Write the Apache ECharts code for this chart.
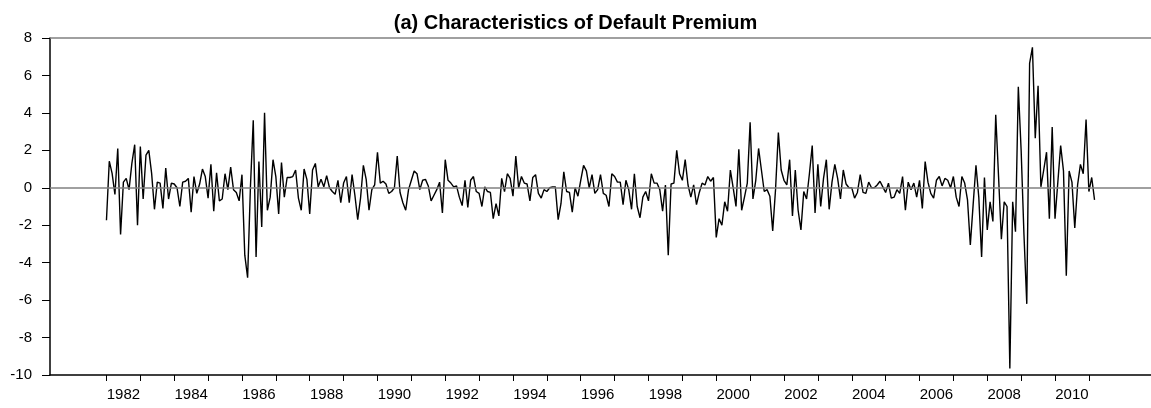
<!DOCTYPE html>
<html>
<head>
<meta charset="utf-8">
<title>Default Premium</title>
<script src="https://cdn.jsdelivr.net/npm/echarts@6/dist/echarts.min.js"></script>
<style>
	html, body { margin: 0; padding: 0; background: #fff; }
	#chart { width: 1151px; height: 408px; }
</style>
</head>
<body>
<div id="chart"></div>
<script>
// monthly default premium, first value = Jan 1982
var startYear = 1982;
var premium = [
	-1.73, 1.42, 0.77, -0.36, 2.1, -2.5, 0.3, 0.5, -0.1, 1.3, 2.3, -2.0,      // 1982
	2.2, -0.6, 1.75, 2.0, 0.77, -1.15, 0.3, 0.25, -1.1, 1.05, -0.6, 0.25,    // 1983
	0.2, 0.0, -1.0, 0.3, 0.35, 0.5, -1.3, 0.6, -0.3, 0.2, 1.0, 0.6,          // 1984
	-0.55, 1.25, -1.25, 0.8, -0.7, -0.6, 0.75, -0.1, 1.1, -0.1, -0.25, -0.7, // 1985
	0.7, -3.6, -4.8, 0.05, 3.6, -3.7, 1.4, -2.1, 4.0, -1.2, -0.5, 1.5,       // 1986
	0.6, -1.4, 1.35, -0.5, 0.55, 0.55, 0.6, 0.95, -0.55, -1.2, 1.0, 0.45,    // 1987
	-1.4, 0.95, 1.3, 0.05, 0.45, 0.05, 0.65, 0.0, -0.2, -0.35, 0.4, -0.8,    // 1988
	0.25, 0.6, -0.8, 0.7, -0.4, -1.7, -0.55, 1.2, 0.45, -1.2, -0.1, 0.15,    // 1989
	1.9, 0.25, 0.35, 0.2, -0.3, -0.2, 0.0, 1.7, -0.25, -0.8, -1.2, -0.1,     // 1990
	0.4, 0.9, 0.75, -0.1, 0.4, 0.45, 0.1, -0.7, -0.4, -0.1, 0.3, -1.35,      // 1991
	1.5, 0.4, 0.25, 0.05, 0.1, -0.5, -0.95, 0.4, -1.05, 0.4, 0.6, -0.2,      // 1992
	-0.3, -1.0, 0.05, -0.2, -0.25, -1.65, -0.85, -1.5, 0.5, -0.2, 0.75, 0.5, // 1993
	-0.45, 1.7, 0.0, 0.6, 0.25, 0.2, -0.7, 0.55, 0.7, -0.3, -0.55, -0.1,     // 1994
	-0.2, 0.0, 0.05, 0.05, -1.7, -0.85, 0.85, -0.2, -0.25, -1.3, 0.0, -0.45, // 1995
	0.4, 1.2, 0.9, 0.0, 0.7, -0.3, -0.1, 0.7, -0.3, -0.4, -1.0, 0.75,        // 1996
	0.6, 0.3, 0.3, -0.9, 0.4, -0.1, -1.15, 0.75, -1.0, -1.6, -0.5, -0.2,     // 1997
	-0.7, 0.75, 0.25, 0.25, -0.1, -1.25, 0.15, -3.6, 0.2, 0.25, 2.0, 0.75,   // 1998
	0.4, 1.5, 0.15, -0.5, 0.15, -0.9, -0.25, 0.25, 0.15, 0.6, 0.35, 0.55,    // 1999
	-2.65, -1.65, -2.0, -0.75, -1.25, 0.95, 0.0, -1.0, 2.05, -1.2, -0.5, 0.25, // 2000
	3.5, -0.6, 0.4, 2.1, 0.95, -0.2, -0.1, -0.45, -2.3, -0.1, 2.95, 0.95,    // 2001
	0.4, 0.15, 1.5, -1.5, 0.95, -1.2, -2.25, -0.2, -0.6, 0.75, 2.25, -1.35,  // 2002
	1.25, -1.0, 0.5, 1.5, -1.15, 0.3, 1.25, 0.5, -0.6, 0.95, 0.2, 0.0,       // 2003
	0.0, -0.55, -0.25, 0.7, -0.25, -0.3, 0.3, 0.0, 0.0, 0.15, 0.35, 0.05,    // 2004
	-0.25, 0.25, -0.55, -0.5, -0.1, -0.3, 0.6, -1.2, 0.3, -0.1, 0.25, -0.5,  // 2005
	0.4, -1.1, 1.4, 0.3, -0.3, -0.55, 0.4, 0.6, 0.1, 0.5, 0.4, 0.0,          // 2006
	0.6, -0.5, -1.0, 0.6, 0.25, -0.65, -3.05, -0.9, 1.2, -0.5, -3.7, 0.55,   // 2007
	-2.25, -0.75, -1.8, 3.9, 0.6, -2.75, -0.75, -1.0, -9.65, -0.75, -2.35, 5.4, // 2008
	2.0, -2.5, -6.2, 6.65, 7.5, 2.65, 5.45, 0.05, 0.95, 1.9, -1.65, 3.25,    // 2009
	-1.65, 0.3, 2.25, 0.9, -4.7, 0.9, 0.3, -2.15, 0.15, 1.25, 0.75, 3.65,    // 2010
	-0.2, 0.55, -0.65                                                        // 2011
];
var tickYears = [1982, 1983, 1984, 1985, 1986, 1987, 1988, 1989, 1990, 1991, 1992, 1993, 1994, 1995, 1996,
	1997, 1998, 1999, 2000, 2001, 2002, 2003, 2004, 2005, 2006, 2007, 2008, 2009, 2010, 2011];
var labelYears = [1982, 1984, 1986, 1988, 1990, 1992, 1994, 1996, 1998, 2000, 2002, 2004, 2006, 2008, 2010];
var refLines = [0, 8];

var FONT = 'Liberation Sans, Arial, Helvetica, sans-serif';

function monthOf(year) {
	return (year - startYear) * 12;
}

function drawChart() {
	var dom = document.getElementById('chart');
	var myChart = echarts.init(dom, null, { renderer: 'canvas' });

	var points = [];
	for (var i = 0; i < premium.length; i++) {
		points.push([i, premium[i]]);
	}

	var option = {
		animation: false,
		backgroundColor: '#ffffff',
		title: {
			text: '(a) Characteristics of Default Premium',
			left: 'center',
			top: 8,
			textStyle: { fontFamily: FONT, fontSize: 20, fontWeight: 'bold', color: '#000' }
		},
		grid: { left: 50, right: 0, top: 38, bottom: 33, containLabel: false },
		xAxis: {
			type: 'value',
			min: -20,
			max: 370,
			axisLine: { show: true, onZero: false, lineStyle: { color: '#000', width: 1.5 } },
			axisTick: {
				show: true,
				length: 6,
				customValues: tickYears.map(monthOf),
				lineStyle: { color: '#000', width: 1 }
			},
			axisLabel: {
				// year label sits in the middle of its year
				customValues: labelYears.map(function (y) { return monthOf(y) + 6; }),
				formatter: function (v) { return String(startYear + Math.round((v - 6) / 12)); },
				margin: 12,
				fontFamily: FONT,
				fontSize: 15,
				color: '#000'
			},
			splitLine: { show: false }
		},
		yAxis: {
			type: 'value',
			min: -10,
			max: 8,
			interval: 2,
			axisLine: { show: true, onZero: false, lineStyle: { color: '#000', width: 1.5 } },
			axisTick: { show: true, length: 8, lineStyle: { color: '#000', width: 1 } },
			axisLabel: { margin: 18, fontFamily: FONT, fontSize: 15, color: '#000' },
			splitLine: { show: false }
		},
		series: [
			{
				name: 'Default Premium',
				type: 'line',
				data: points,
				symbol: 'none',
				lineStyle: { color: '#000', width: 1.4 },
				markLine: {
					silent: true,
					symbol: 'none',
					label: { show: false },
					lineStyle: { color: '#808080', width: 1.5, type: 'solid' },
					data: refLines.map(function (v) { return { yAxis: v }; })
				}
			}
		]
	};

	myChart.setOption(option, true);
}

drawChart();
</script>
</body>
</html>
